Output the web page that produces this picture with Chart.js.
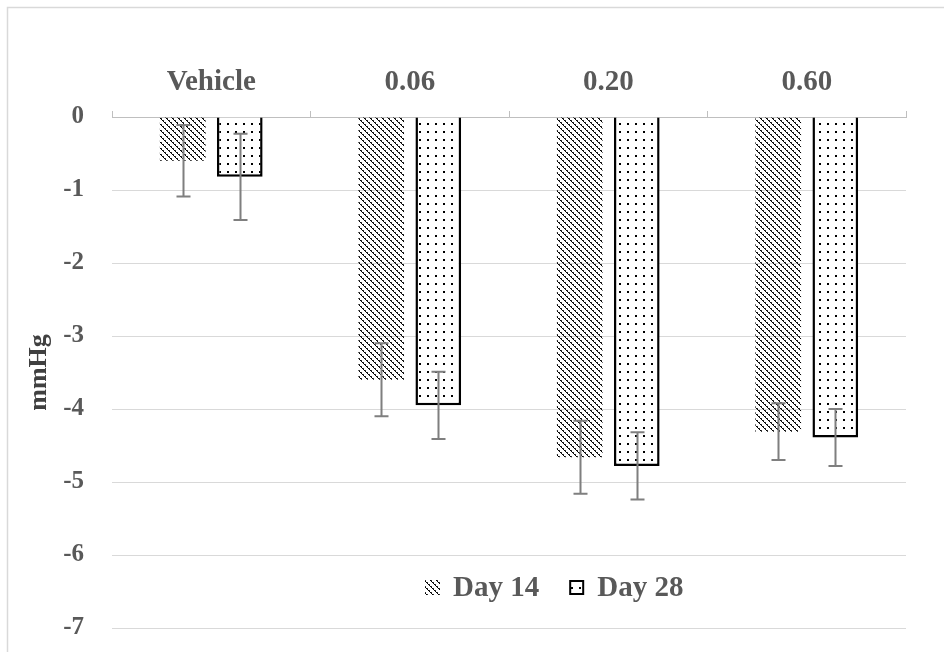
<!DOCTYPE html>
<html>
<head>
<meta charset="utf-8">
<script src="https://cdn.jsdelivr.net/npm/chart.js@4.4.1/dist/chart.umd.min.js"></script>
<style>
  html, body { margin: 0; padding: 0; background: #fff; }
  #wrap { width: 950px; height: 652px; position: relative; }
</style>
</head>
<body>
<div id="wrap"><canvas id="c" width="950" height="652"></canvas></div>
<script>
// ---- data ----
const categories = ['Vehicle', '0.06', '0.20', '0.60'];
const seriesNames = ['Day 14', 'Day 28'];
const day14 = [-0.60, -3.60, -4.66, -4.31];
const day28 = [-0.82, -3.95, -4.78, -4.39];
const err14 = [0.49, 0.50, 0.50, 0.39];
const err28 = [0.59, 0.46, 0.46, 0.39];
const yTicks = [0, -1, -2, -3, -4, -5, -6, -7];

// ---- patterns ----
function hatchPattern() {
  const c = document.createElement('canvas');
  c.width = 6; c.height = 6;
  const g = c.getContext('2d');
  for (let i = 0; i < 6; i++) {
    g.fillStyle = '#000';
    g.fillRect(i, i, 1, 1);
    if (i % 2 === 0) { g.fillStyle = '#333'; g.fillRect((i + 1) % 6, i, 1, 1); }
  }
  return g.createPattern(c, 'repeat');
}
function dotPattern() {
  const c = document.createElement('canvas');
  c.width = 8; c.height = 8;
  const g = c.getContext('2d');
  g.fillStyle = '#fff';
  g.fillRect(0, 0, 8, 8);
  g.fillStyle = '#000';
  g.fillRect(3, 3, 2, 2);
  return g.createPattern(c, 'repeat');
}
const hatch = hatchPattern();
const dots = dotPattern();
const errs = [err14, err28];

const textColor = '#595959';
const serif = "'Liberation Serif', 'Times New Roman', serif";

const frame = {
  id: 'frame',
  beforeDraw(chart) {
    const ctx = chart.ctx;
    ctx.save();
    ctx.fillStyle = '#fff';
    ctx.fillRect(0, 0, chart.width, chart.height);
    ctx.strokeStyle = '#d9d9d9';
    ctx.lineWidth = 1.5;
    ctx.beginPath();
    ctx.moveTo(7.5, chart.height);
    ctx.lineTo(7.5, 7.5);
    ctx.lineTo(chart.width - 6, 7.5);
    ctx.stroke();
    ctx.restore();
  }
};

const errorBars = {
  id: 'errorBars',
  afterDatasetsDraw(chart) {
    const ctx = chart.ctx;
    const ys = chart.scales.y;
    ctx.save();
    ctx.strokeStyle = '#7f7f7f';
    ctx.lineWidth = 2;
    chart.data.datasets.forEach((ds, di) => {
      const meta = chart.getDatasetMeta(di);
      meta.data.forEach((bar, i) => {
        const v = ds.data[i], e = errs[di][i];
        const x = Math.round(bar.x) + 0.5;
        const y1 = ys.getPixelForValue(v + e);
        const y2 = ys.getPixelForValue(v - e);
        ctx.beginPath();
        ctx.moveTo(x, y1); ctx.lineTo(x, y2);
        ctx.moveTo(x - 7, y1); ctx.lineTo(x + 7, y1);
        ctx.moveTo(x - 7, y2); ctx.lineTo(x + 7, y2);
        ctx.stroke();
      });
    });
    ctx.restore();
  }
};

const innerLegend = {
  id: 'innerLegend',
  afterDraw(chart) {
    const ctx = chart.ctx;
    ctx.save();
    ctx.font = "bold 29px " + serif;
    ctx.textBaseline = 'middle';
    ctx.fillStyle = textColor;
    let x = 425;
    const yc = 588;
    chart.data.datasets.forEach((ds, di) => {
      ctx.fillStyle = ds.backgroundColor;
      ctx.fillRect(x, yc - 8, 15, 15);
      if (ds.borderWidth) {
        ctx.strokeStyle = '#000';
        ctx.lineWidth = 2;
        ctx.strokeRect(x + 1, yc - 7, 13, 13);
      }
      ctx.fillStyle = textColor;
      ctx.fillText(ds.label, x + 28, yc + 1);
      x += 28 + ctx.measureText(ds.label).width + 30;
    });
    ctx.restore();
  }
};

new Chart(document.getElementById('c'), {
  type: 'bar',
  data: {
    labels: categories,
    datasets: [
      { label: seriesNames[0], data: day14, backgroundColor: hatch, borderWidth: 0 },
      { label: seriesNames[1], data: day28, backgroundColor: dots, borderColor: '#000', borderWidth: 2.5, borderSkipped: 'start' }
    ]
  },
  options: {
    responsive: false,
    animation: false,
    devicePixelRatio: 1,
    categoryPercentage: 0.575,
    barPercentage: 0.8,
    layout: { padding: { left: 0, right: 44, top: 0, bottom: 24 } },
    plugins: {
      legend: { display: false },
      tooltip: { enabled: false }
    },
    scales: {
      x: {
        position: 'top',
        grid: { display: true, drawOnChartArea: false, drawTicks: true, tickLength: 6, color: '#bfbfbf', offset: true },
        border: { display: true, color: '#bfbfbf', width: 1 },
        ticks: { color: textColor, font: { family: serif, size: 29, weight: 'bold' }, padding: 11 },
        afterFit(s) { s.height = 117; }
      },
      y: {
        min: -7, max: 0,
        afterBuildTicks(s) { s.ticks = yTicks.map(v => ({ value: v })); },
        grid: { color: '#d9d9d9', drawTicks: false, lineWidth: 1 },
        border: { display: false },
        ticks: { color: textColor, font: { family: serif, size: 25, weight: 'bold' }, padding: 28 },
        title: { display: true, text: 'mmHg', color: '#404040', font: { family: serif, size: 26, weight: 'bold' }, padding: { top: 24, bottom: 0 } },
        afterFit(s) { s.width = 112; s.paddingBottom = 0; s.paddingTop = 0; }
      }
    }
  },
  plugins: [frame, errorBars, innerLegend]
});
</script>
</body>
</html>
